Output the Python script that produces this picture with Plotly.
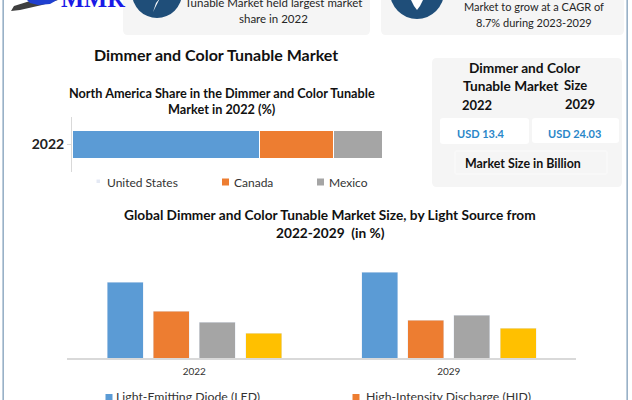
import plotly.graph_objects as go

W, H = 632, 400
FONT = "Lato"

# --- data ---
share_year = ["2022"]
share_names = ["United States", "Canada", "Mexico"]
share_values = [60.5, 23.8, 15.7]
share_colors = ["#5b9bd5", "#ed7d31", "#a5a5a5"]

years = ["2022", "2029"]
source_names = ["Light-Emitting Diode (LED)", "High-Intensity Discharge (HID)", "Fluorescent Lamp", "Others"]
source_2022 = [37.8, 23.5, 18.0, 12.5]
source_2029 = [43.0, 19.0, 21.3, 14.8]
source_colors = ["#5b9bd5", "#ed7d31", "#a5a5a5", "#ffc000"]


def px(x):
    return x / W


def py(y):
    return 1 - y / H


def label(text, x, y, size=11, bold=False, color="#262626", family=FONT):
    return dict(text=f"<b>{text}</b>" if bold else text, x=px(x), y=py(y), xref="paper", yref="paper",
                xanchor="center", yanchor="middle", showarrow=False,
                font=dict(size=size, color=color, family=family))


def box(x0, y0, x1, y1, fill, r=5, line=None):
    p = (f"M{px(x0 + r)},{py(y0)} L{px(x1 - r)},{py(y0)} Q{px(x1)},{py(y0)} {px(x1)},{py(y0 + r)} "
         f"L{px(x1)},{py(y1 - r)} Q{px(x1)},{py(y1)} {px(x1 - r)},{py(y1)} "
         f"L{px(x0 + r)},{py(y1)} Q{px(x0)},{py(y1)} {px(x0)},{py(y1 - r)} "
         f"L{px(x0)},{py(y0 + r)} Q{px(x0)},{py(y0)} {px(x0 + r)},{py(y0)} Z")
    return dict(type="path", path=p, xref="paper", yref="paper", fillcolor=fill, layer="below",
                line=dict(width=1 if line else 0, color=line or "rgba(0,0,0,0)"))


def rect(x0, y0, x1, y1, fill):
    return dict(type="rect", xref="paper", yref="paper", x0=px(x0), x1=px(x1), y0=py(y0), y1=py(y1),
                fillcolor=fill, line=dict(width=0), layer="below")


def circle(cx, cy, r, fill):
    return dict(type="circle", xref="paper", yref="paper", x0=px(cx - r), x1=px(cx + r),
                y0=py(cy + r), y1=py(cy - r), fillcolor=fill, line=dict(width=0), layer="below")


def poly(points, fill):
    p = "M" + " L".join(f"{px(a)},{py(b)}" for a, b in points) + " Z"
    return dict(type="path", path=p, xref="paper", yref="paper", fillcolor=fill,
                line=dict(width=0), layer="below")


fig = go.Figure()

for name, value, color in zip(share_names, share_values, share_colors):
    fig.add_trace(go.Bar(y=share_year, x=[value], name=name, orientation="h", showlegend=False,
                         marker=dict(color=color, line=dict(color="white", width=1)),
                         xaxis="x", yaxis="y"))

bar_offsets = [-0.342, -0.162, 0.019, 0.203]
for i, (name, color) in enumerate(zip(source_names, source_colors)):
    fig.add_trace(go.Bar(x=years, y=[source_2022[i], source_2029[i]], name=name, showlegend=False,
                         marker=dict(color=color), xaxis="x2", yaxis="y2", offsetgroup=str(i),
                         width=0.1415, offset=bar_offsets[i]))

shapes = [
    # window frame
    rect(2.5, 0, 3.8, 400, "#7f9db9"),
    rect(626.5, 0, 627.8, 400, "#7f9db9"),
    # header panels
    box(123, -10, 370, 35, "#f5f5f5"),
    box(381, -10, 624, 35, "#f5f5f5"),
    circle(157, -7, 25, "#1f4e79"),
    circle(417, -8, 27, "#1f4e79"),
    poly([(160, -2), (153, 12), (156, 3)], "#ffffff"),
    poly([(411, 0), (423, 0), (420, 6), (417, 10), (414, 6)], "#ffffff"),
    # logo
    poly([(11, 11), (14, 6), (30, 1), (42, 0), (58, 0), (42, 5), (20, 10)], "#3f3f3f"),
    poly([(27, 0), (57, 0), (50, 4), (38, 5), (30, 3)], "#1f3fd0"),
    # market size panel
    box(432, 58, 622, 187, "#f5f5f5"),
    box(440, 118, 529, 144, "#ffffff", r=3),
    box(532, 118, 619, 143, "#ffffff", r=3),
    box(455, 151, 607, 174, "rgba(0,0,0,0)", r=1, line="#fbfbfb"),
    # legend keys
    rect(96.5, 179.5, 100, 183, "#e4e9f4"),
    rect(222, 178.5, 229, 185.5, share_colors[1]),
    rect(317, 178.5, 324, 185.5, share_colors[2]),
    rect(105.5, 394, 112.5, 401, source_colors[0]),
    rect(352.5, 394, 359.5, 401, source_colors[1]),
]

annotations = [
    label("MMR", 93, -2, size=24.5, bold=True, color="#1a1ae6", family="Liberation Serif"),
    label("Tunable Market held largest market", 273, 3, size=11.5),
    label("share in 2022", 273, 18, size=11.5),
    label("Market to grow at a CAGR of", 534, 7, size=11),
    label("8.7% during 2023-2029", 534, 22, size=11),
    label("Dimmer and Color Tunable Market", 216, 55, size=16, bold=True, color="#111111"),
    label("North America Share in the Dimmer and Color Tunable", 222, 93, size=12.7, bold=True, color="#111111"),
    label("Market in 2022 (%)", 222, 109.5, size=12.7, bold=True, color="#111111"),
    label("Dimmer and Color", 525, 67, size=13.7, bold=True, color="#111111"),
    label("Tunable Market", 511, 86, size=13.7, bold=True, color="#111111"),
    label("Size", 575, 85, size=13, bold=True, color="#111111"),
    label("2022", 477, 105, size=13, bold=True, color="#111111"),
    label("2029", 580, 104, size=13, bold=True, color="#111111"),
    label("USD 13.4", 481, 133, size=11, bold=True, color="#2a86c8"),
    label("USD 24.03", 574, 133, size=11, bold=True, color="#2a86c8"),
    label("Market Size in Billion", 523, 164, size=12.4, bold=True, color="#111111"),
    label(share_names[0], 142, 182, size=12, color="#333333"),
    label(share_names[1], 253, 182, size=12, color="#333333"),
    label(share_names[2], 348, 182, size=12, color="#333333"),
    label("Global Dimmer and Color Tunable Market Size, by Light Source from", 330, 214, size=13.7, bold=True, color="#111111"),
    label("2022-2029  (in %)", 330, 232.5, size=13.7, bold=True, color="#111111"),
    label(source_names[0], 188, 396.5, size=12.3, color="#333333"),
    label(source_names[1], 448, 396.5, size=12.3, color="#333333"),
]

fig.update_layout(
    width=W, height=H, margin=dict(l=0, r=0, t=0, b=0), autosize=False,
    paper_bgcolor="white", plot_bgcolor="rgba(0,0,0,0)",
    font=dict(family=FONT, color="#262626"),
    barmode="stack", bargap=0.49,
    shapes=shapes, annotations=annotations,
    xaxis=dict(domain=[px(72), px(382)], range=[0, 100], visible=False, anchor="y"),
    yaxis=dict(domain=[py(172), py(117)], anchor="x", type="category", showline=True,
               linecolor="#d9d9d9", linewidth=1, ticks="outside", ticklen=4, tickcolor="#d9d9d9",
               tickfont=dict(size=14, color="#222222", family=FONT, weight="bold"), showgrid=False),
    xaxis2=dict(domain=[px(67), px(576)], type="category", anchor="y2", showline=True,
                linecolor="#d9d9d9", linewidth=2, ticks="", showgrid=False,
                tickfont=dict(size=10, color="#333333"), ticklabelstandoff=3),
    yaxis2=dict(domain=[py(358), py(258)], range=[0, 50], anchor="x2", visible=False),
)

fig.write_html("out.html", config=dict(displayModeBar=False),
               post_script="document.body.style.margin='0';document.body.style.overflow='hidden';")
